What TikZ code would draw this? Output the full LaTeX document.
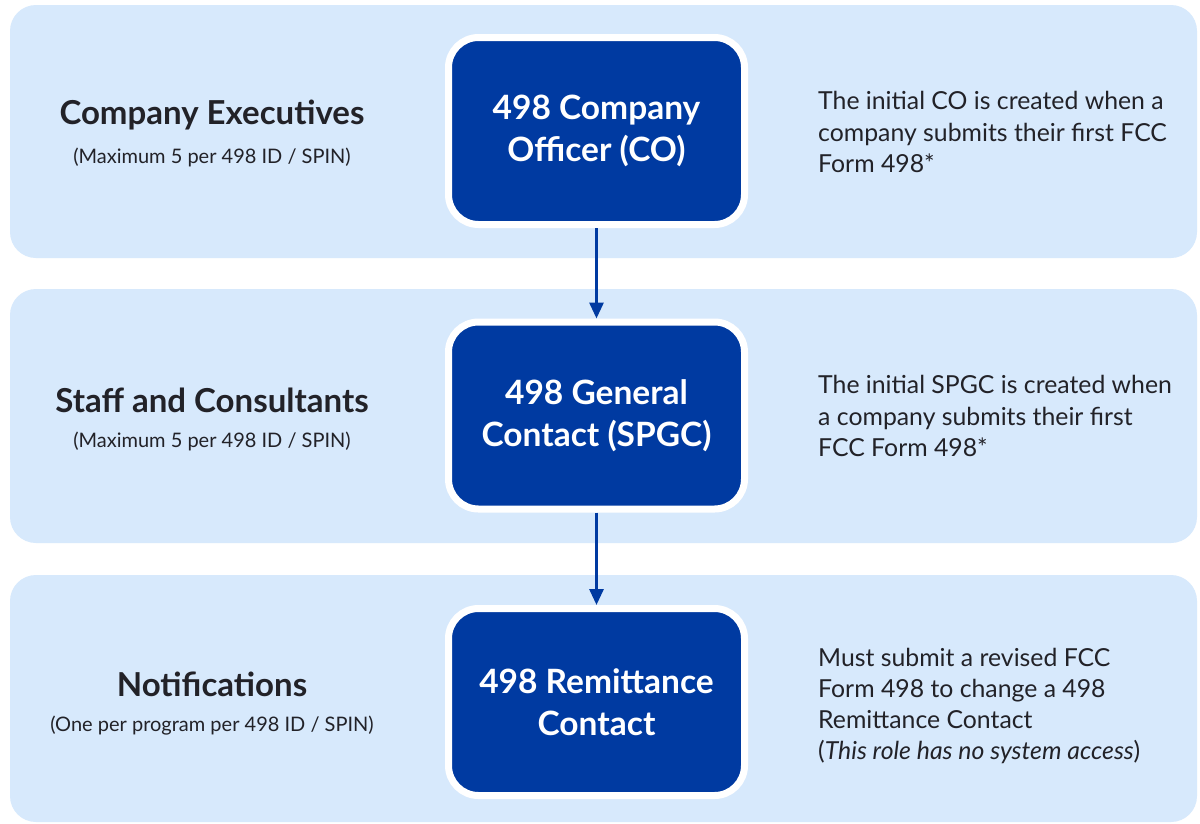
\documentclass[tikz,border=0pt]{standalone}
\usepackage{fontspec}
\setmainfont{Lato}
\usetikzlibrary{arrows.meta}
\definecolor{bandfill}{HTML}{D7E9FC}
\definecolor{boxblue}{HTML}{003AA1}
\definecolor{ink}{HTML}{222228}
\tikzset{
  bandbox/.style={fill=bandfill, rounded corners=26pt, minimum width=1187pt, inner sep=0pt},
  rolebox/.style={fill=boxblue, draw=white, line width=7pt, rounded corners=30pt,
    minimum width=296pt, minimum height=187pt, text=white, align=center,
    font=\fontsize{33.5}{42}\selectfont\bfseries},
  titletext/.style={text=ink, align=center, font=\fontsize{33}{38}\selectfont\bfseries},
  subtext/.style={text=ink, align=center, font=\fontsize{20}{24}\selectfont},
  notetext/.style={text=ink, align=left, anchor=west, inner sep=0pt, font=\fontsize{24.8}{31.3}\selectfont},
  flow/.style={draw=boxblue, line width=3pt, -{Triangle[length=16pt,width=14pt]}}
}
\begin{document}
\begin{tikzpicture}[x=1pt,y=-1pt]
\useasboundingbox[fill=white] (0,0) rectangle (1200,823);
\node[bandbox, minimum height=253pt] (band1) at (603.5,131.5) {};
\node[bandbox, minimum height=254pt] (band2) at (603.5,416) {};
\node[bandbox, minimum height=247pt] (band3) at (603.5,698.5) {};

\node[rolebox] (co) at (596.5,131) {498 Company\\Officer (CO)};
\node[rolebox] (spgc) at (596.5,415.5) {498 General\\Contact (SPGC)};
\node[rolebox] (rc) at (596.5,702) {498 Remittance\\Contact};

\draw[flow] (co) -- (spgc);
\draw[flow] (spgc) -- (rc);

\node[titletext] (t1) at (212,115) {Company Executives};
\node[subtext] (s1) at (212,157) {(Maximum 5 per 498 ID / SPIN)};
\node[titletext] (t2) at (212,400) {Staff and Consultants};
\node[subtext] (s2) at (212,441) {(Maximum 5 per 498 ID / SPIN)};
\node[titletext] (t3) at (212,684) {Notifications};
\node[subtext] (s3) at (212,726) {(One per program per 498 ID / SPIN)};

\node[notetext] (n1) at (818,132) {The initial CO is created when a\\company submits their first FCC\\Form 498*};
\node[notetext] (n2) at (818,416) {The initial SPGC is created when\\a company submits their first\\FCC Form 498*};
\node[notetext] (n3) at (818,706) {Must submit a revised FCC\\Form 498 to change a 498\\Remittance Contact\\(\textit{This role has no system access})};
\end{tikzpicture}
\end{document}
